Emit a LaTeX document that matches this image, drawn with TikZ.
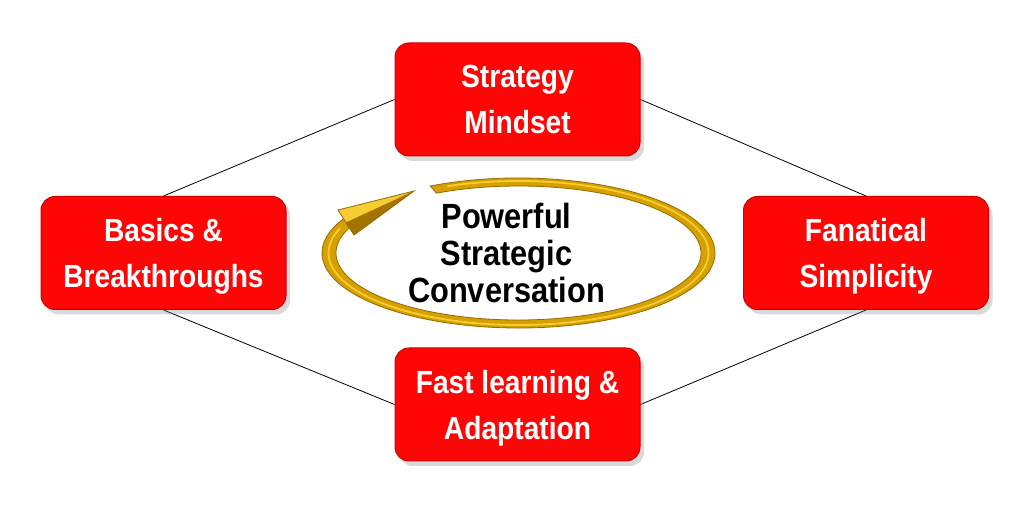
\documentclass[tikz,border=0pt]{standalone}
\usepackage{fontspec}
\setmainfont[FakeStretch=0.88]{Liberation Sans}
\usetikzlibrary{shadows,backgrounds,calc}
\definecolor{boxred}{RGB}{255,6,6}
\definecolor{boxedge}{RGB}{205,0,0}
\definecolor{golddark}{RGB}{150,105,0}
\definecolor{goldmid}{RGB}{214,160,0}
\definecolor{goldlight}{RGB}{248,205,50}
\begin{document}
\begin{tikzpicture}[x=1pt,y=1pt,
  redbox/.style={rectangle, rounded corners=14pt, minimum width=245pt, minimum height=113pt,
    fill=boxred, draw=boxedge, line width=1pt, align=center, text=white,
    font=\bfseries\fontsize{32}{46}\selectfont, text depth=0pt,
    drop shadow={shadow xshift=4pt, shadow yshift=-5pt, opacity=0.3}},
  link/.style={draw=black, line width=0.8pt},
  centertext/.style={align=center, text=black, font=\bfseries\fontsize{35}{37}\selectfont, text depth=0pt}]
\useasboundingbox (0,0) rectangle (1020,506);
% ring arrow
\coordinate (ringc) at (518.5,253);
\fill[goldmid, draw=golddark, line width=0.8pt]
  ($(ringc)+(116.7:196.5 and 75)$) arc[start angle=116.7, end angle=-210, x radius=196.5, y radius=75]
  -- ($(ringc)+(-210:182.5 and 67)$) arc[start angle=-210, end angle=116.7, x radius=182.5, y radius=67] -- cycle;
\draw[goldlight, line width=1.8pt]
  ($(ringc)+(112:190 and 72)$) arc[start angle=112, end angle=-200, x radius=190, y radius=72];
\coordinate (tip) at (414,315);
\coordinate (hb1) at (338,296);
\coordinate (hb2) at (354,271);
\coordinate (hbm) at (346,283.5);
\fill[goldmid] (tip) -- (hb1) -- (hb2) -- cycle;
\fill[goldlight] (tip) -- (hb1) -- (hbm) -- cycle;
\fill[golddark!80!goldmid] (tip) -- (hbm) -- (hb2) -- cycle;
\draw[golddark, line width=0.8pt] (tip) -- (hb1) -- (hb2) -- cycle;
% boxes
\node[redbox] (top) at (517.5,406.5) {Strategy\\Mindset};
\node[redbox] (left) at (163.5,253) {Basics \&\\Breakthroughs};
\node[redbox] (right) at (866,253) {Fanatical\\Simplicity};
\node[redbox] (bottom) at (517.5,101.5) {Fast learning \&\\Adaptation};
\node[centertext] (center) at (506.5,253.5) {Powerful\\Strategic\\Conversation};
% connectors
\begin{scope}[on background layer]
\draw[link] (left.north) -- (top.west);
\draw[link] (top.east) -- (right.north);
\draw[link] (right.south) -- (bottom.east);
\draw[link] (bottom.west) -- (left.south);
\end{scope}
\end{tikzpicture}
\end{document}
